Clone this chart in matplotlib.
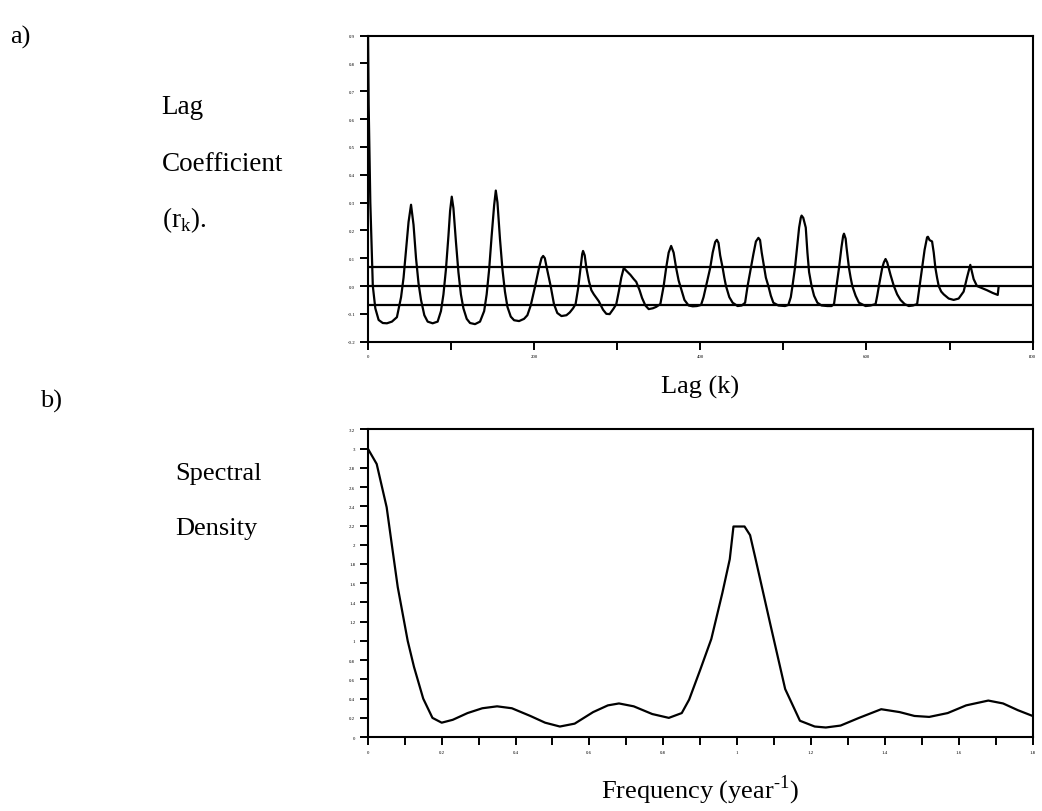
import matplotlib.pyplot as plt

plt.rcParams['font.family'] = ['Liberation Serif', 'DejaVu Serif']

# a) autocorrelation, values
lag = [0, 1, 3, 6, 9, 13, 18, 23, 29, 35, 40, 43, 46, 49, 52, 55, 58, 61, 64, 68, 72, 78, 84,
       88, 91, 94, 97, 99, 101, 103, 106, 109, 112, 115, 119, 123, 129, 135,
       140, 143, 146, 149, 152, 154, 156, 159, 162, 165, 168, 172, 176, 182, 188,
       192, 196, 201, 206, 209, 211, 213, 215, 220, 224, 228, 233, 239,
       243, 247, 250, 253, 256, 258, 259, 261, 263, 266, 269, 272, 278, 283, 287, 291,
       296, 299, 302, 305, 308, 311, 316, 320, 323, 327, 330, 334, 338, 343,
       347, 352, 356, 359, 362, 365, 368, 371, 374, 377, 381, 386, 391,
       396, 401, 404, 407, 410, 412, 415, 418, 420, 422, 424, 427, 429, 431, 435, 439, 445,
       450, 454, 457, 461, 464, 467, 470, 472, 474, 477, 479, 482, 485, 488, 494, 502,
       506, 509, 511, 514, 517, 519, 521, 522, 524, 527, 529, 531, 534, 537, 541, 546, 553,
       558, 561, 564, 567, 570, 572, 573, 575, 576, 579, 581, 583, 587, 591, 599,
       605, 611, 613, 615, 619, 621, 623, 625, 629, 633, 637, 641, 646, 651,
       656, 661, 664, 667, 670, 673, 674, 676, 679, 681, 683, 685, 687, 690, 693, 699, 705, 711,
       717, 721, 725, 729, 733, 737, 745, 752, 758, 759]
acf = [1.0, 0.65, 0.30, 0.00, -0.08, -0.122, -0.133, -0.134, -0.128, -0.112,
       -0.04, 0.03, 0.13, 0.23, 0.292, 0.22, 0.1, 0.01, -0.05, -0.105, -0.128, -0.134, -0.128,
       -0.09, -0.03, 0.06, 0.18, 0.27, 0.321, 0.28, 0.16, 0.05, -0.03, -0.08, -0.118, -0.133, -0.137, -0.128,
       -0.09, -0.03, 0.06, 0.18, 0.29, 0.343, 0.3, 0.17, 0.06, -0.02, -0.075, -0.11, -0.123, -0.126, -0.118,
       -0.105, -0.07, -0.005, 0.065, 0.1, 0.108, 0.1, 0.07, 0.0, -0.065, -0.097, -0.108, -0.105,
       -0.095, -0.08, -0.065, -0.01, 0.065, 0.115, 0.126, 0.11, 0.065, 0.018, -0.015, -0.03, -0.055, -0.085, -0.1, -0.101,
       -0.08, -0.065, -0.02, 0.03, 0.065, 0.055, 0.04, 0.025, 0.015, -0.015, -0.043, -0.07, -0.083, -0.08,
       -0.075, -0.065, 0.0, 0.065, 0.12, 0.144, 0.12, 0.065, 0.02, -0.01, -0.05, -0.07, -0.073,
       -0.072, -0.068, -0.04, 0.0, 0.04, 0.065, 0.12, 0.158, 0.166, 0.155, 0.11, 0.065, 0.03, 0.0, -0.04, -0.06, -0.072,
       -0.07, -0.06, 0.0, 0.065, 0.115, 0.16, 0.173, 0.165, 0.12, 0.065, 0.03, 0.0, -0.035, -0.06, -0.07, -0.072,
       -0.068, -0.04, 0.0, 0.065, 0.15, 0.21, 0.245, 0.253, 0.245, 0.21, 0.12, 0.05, 0.0, -0.035, -0.06, -0.07, -0.072,
       -0.072, -0.065, 0.0, 0.065, 0.14, 0.18, 0.188, 0.17, 0.14, 0.065, 0.03, 0.0, -0.035, -0.06, -0.072,
       -0.07, -0.065, -0.035, 0.0, 0.065, 0.085, 0.097, 0.085, 0.04, 0.0, -0.03, -0.05, -0.065, -0.072,
       -0.07, -0.065, 0.0, 0.065, 0.13, 0.175, 0.177, 0.165, 0.16, 0.12, 0.065, 0.03, 0.0, -0.02, -0.03, -0.045, -0.05, -0.045,
       -0.02, 0.03, 0.076, 0.025, 0.0, -0.005, -0.015, -0.025, -0.032, -0.005]
band = 0.067

# b) spectral density
freq = [0.0, 0.024, 0.051, 0.065, 0.081, 0.108, 0.125, 0.15, 0.175, 0.2, 0.23, 0.27, 0.31, 0.35, 0.39,
        0.44, 0.48, 0.52, 0.56, 0.61, 0.65, 0.68, 0.72, 0.77, 0.815, 0.85, 0.87, 0.9, 0.93, 0.96,
        0.98, 0.99, 1.02, 1.035, 1.05, 1.09, 1.13, 1.17, 1.21, 1.24, 1.28, 1.33, 1.39, 1.44, 1.48,
        1.52, 1.57, 1.62, 1.68, 1.72, 1.76, 1.8]
dens = [3.0, 2.84, 2.39, 2.0, 1.56, 1.0, 0.73, 0.4, 0.2, 0.15, 0.18, 0.25, 0.3, 0.32, 0.3,
        0.22, 0.15, 0.11, 0.14, 0.26, 0.33, 0.35, 0.32, 0.24, 0.2, 0.25, 0.39, 0.7, 1.02, 1.5,
        1.85, 2.19, 2.19, 2.1, 1.85, 1.17, 0.5, 0.17, 0.11, 0.1, 0.12, 0.2, 0.29, 0.26, 0.22,
        0.21, 0.25, 0.33, 0.38, 0.35, 0.28, 0.22]

fig = plt.figure(figsize=(10.42, 8.12), dpi=100)

ax1 = fig.add_axes([0.353, 0.578, 0.638, 0.377])
ax1.plot(lag, acf, color='black', lw=1.6)
for yv in (band, 0.0, -band):
    ax1.axhline(yv, color='black', lw=1.6)
ax1.set_xlim(0, 800)
ax1.set_ylim(-0.2, 0.9)
ax1.set_xticks(range(0, 801, 100))
ax1.set_xticklabels(['0', '', '200', '', '400', '', '600', '', '800'])
yt1 = [i / 10 for i in range(-2, 10)]
ax1.set_yticks(yt1)
ax1.set_yticklabels(['%.1f' % v for v in yt1])
ax1.set_xlabel('Lag (k)', fontsize=19, labelpad=12)

ax2 = fig.add_axes([0.353, 0.091, 0.638, 0.379])
ax2.plot(freq, dens, color='black', lw=1.6)
ax2.set_xlim(0, 1.8)
ax2.set_ylim(0, 3.2)
ax2.set_xticks([i / 10 for i in range(0, 19)])
ax2.set_xticklabels(['%g' % (i / 10) if i % 2 == 0 else '' for i in range(0, 19)])
yt2 = [i / 5 for i in range(0, 17)]
ax2.set_yticks(yt2)
ax2.set_yticklabels(['%g' % v for v in yt2])
ax2.set_xlabel('Frequency (year$^{\\mathregular{\u2010}\\mathregular{1}}$)', fontsize=19, labelpad=14)

for ax in (ax1, ax2):
    for s in ax.spines.values():
        s.set_linewidth(1.5)
    ax.tick_params(direction='out', length=6, width=1.4, labelsize=3.5, pad=3)

fig.text(0.01, 0.968, 'a)', fontsize=19, va='top')
fig.text(0.155, 0.868, 'Lag', fontsize=19.5, va='center')
fig.text(0.155, 0.798, 'Coefficient', fontsize=19.5, va='center')
fig.text(0.155, 0.729, '(r$_{\\mathregular{k}}$).', fontsize=19.5, va='center')
fig.text(0.038, 0.505, 'b)', fontsize=19, va='center')
fig.text(0.168, 0.416, 'Spectral', fontsize=19, va='center')
fig.text(0.168, 0.349, 'Density', fontsize=19, va='center')

fig.savefig('out.png', dpi=100)
